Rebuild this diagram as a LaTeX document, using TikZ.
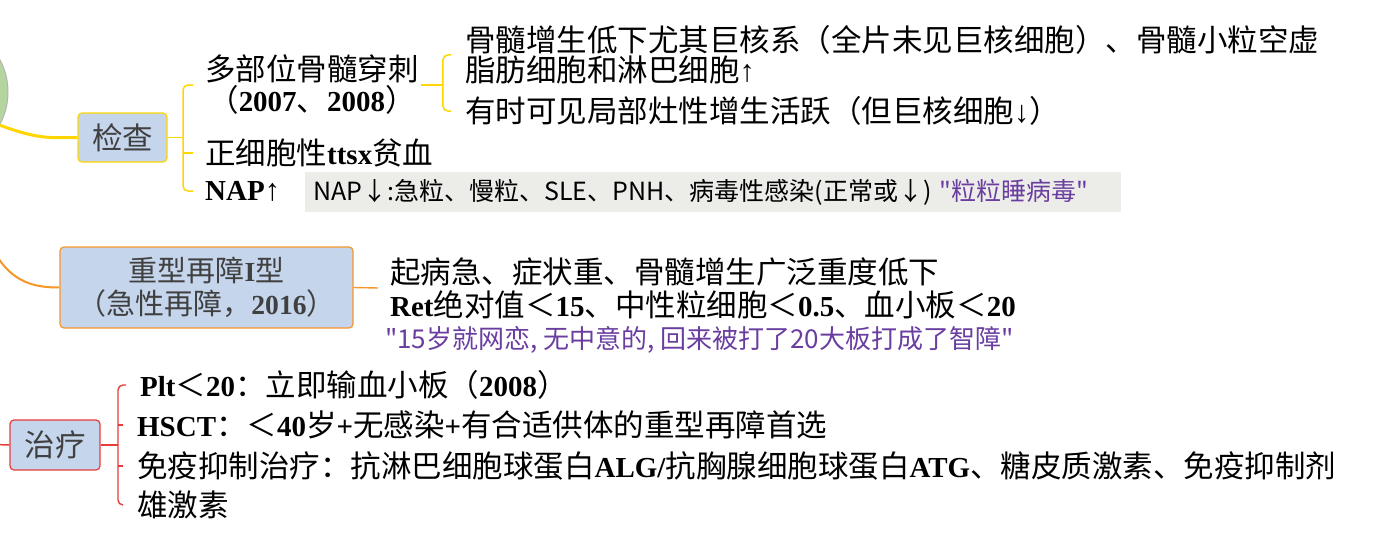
\documentclass[tikz,border=0pt]{standalone}
\usepackage{fontspec}
\setmainfont{Liberation Serif}
\newfontfamily\cjk{Noto Sans CJK SC}
\newfontfamily\latn[Scale=0.95]{Liberation Serif}
\usetikzlibrary{positioning,calc}
\definecolor{boxblue}{RGB}{197,213,235}
\definecolor{boxtext}{RGB}{64,64,64}
\definecolor{examyellow}{RGB}{255,214,0}
\definecolor{typeorange}{RGB}{245,150,40}
\definecolor{treatred}{RGB}{232,60,60}
\definecolor{rootgreen}{RGB}{180,214,158}
\definecolor{notegray}{RGB}{236,237,233}
\definecolor{notepurple}{RGB}{106,62,160}
\newcommand{\lb}[1]{{\latn\bfseries #1}}
\newcommand{\arr}[1]{{\rmfamily #1}}

\begin{document}
\begin{tikzpicture}[
    x=1pt, y=-1pt,
    every node/.style={inner sep=2pt, font=\cjk\fontsize{30.5}{31}\selectfont},
    topicbox/.style={rectangle, fill=boxblue, rounded corners=4pt, line width=1.2pt, text=boxtext, align=center, inner sep=0pt},
    itemnode/.style={anchor=west, align=left},
    notenode/.style={anchor=west, align=left, font=\cjk\fontsize{26}{28}\selectfont},
    yline/.style={draw=examyellow, line width=1.5pt},
    oline/.style={draw=typeorange, line width=1.4pt},
    rline/.style={draw=treatred, line width=1.4pt},
    bracket/.style={rounded corners=5pt}
]
    \useasboundingbox (0,0) rectangle (1373,551);
    \clip (0,0) rectangle (1373,551);

    \node (root) [circle, fill=rootgreen, draw=gray!60, line width=1pt, minimum size=136] at (-60,92) {};

    % 检查
    \node (exam) [topicbox, draw=examyellow, minimum width=89, minimum height=49] at (122.5,137.5) {检查};
    \node (marrow) [itemnode, align=center] at (203,85) {多部位骨髓穿刺\\（\lb{2007}、\lb{2008}）};
    \node (hypo) [itemnode, font=\cjk\fontsize{30.5}{30}\selectfont] at (463,55) {骨髓增生低下尤其巨核系（全片未见巨核细胞）、骨髓小粒空虚\\脂肪细胞和淋巴细胞\arr{↑}};
    \node (focal) [itemnode] at (463,111) {有时可见局部灶性增生活跃（但巨核细胞\arr{↓}）};
    \node (normo) [itemnode] at (203,153) {正细胞性\lb{ttsx}贫血};
    \node (nap) [itemnode] at (203,191) {\lb{NAP}\arr{↑}};
    \node (napnote) [notenode, fill=notegray, text width=800, inner xsep=8, minimum height=40, font=\cjk\fontsize{25}{28}\selectfont] at (305,192) {NAP↓:急粒、慢粒、SLE、PNH、病毒性感染(正常或↓) \textcolor{notepurple}{"粒粒睡病毒"}};

    \draw[examyellow, line width=3pt] (root.-29) .. controls (40,140) and (50,137.5) .. (exam.west);
    \coordinate (examfork) at (183,137.5);
    \draw[yline] (exam.east) -- (examfork);
    \draw[yline, bracket] ([xshift=-10]marrow.west) -| (examfork) |- ([xshift=-10]nap.west);
    \draw[yline] (examfork |- normo.west) -- ([xshift=-10]normo.west);
    \coordinate (marrowfork) at ([xshift=22]marrow.east);
    \draw[yline] (marrow.east) -- (marrowfork);
    \draw[yline, bracket] ([xshift=-12]hypo.west) -| (marrowfork) |- ([xshift=-12]focal.west);

    % 重型再障I型
    \node (severe) [topicbox, draw=typeorange, minimum width=293, minimum height=81, font=\cjk\fontsize{29}{33}\selectfont] at (206.5,287.5) {重型再障\lb{I}型\\（急性再障，\lb{2016}）};
    \node (onset) [itemnode, font=\cjk\fontsize{30.5}{33}\selectfont] at (388,288) {起病急、症状重、骨髓增生广泛重度低下\\\lb{Ret}绝对值＜\lb{15}、中性粒细胞＜\lb{0.5}、血小板＜\lb{20}};
    \node (mnemonic) [notenode, text=notepurple] at (383,340) {"15岁就网恋, 无中意的, 回来被打了20大板打成了智障"};

    \draw[typeorange, line width=2pt] (root.-62) .. controls (-20,280) and (25,287.5) .. (severe.west);
    \draw[oline] (severe.east) -- ([xshift=-10]onset.west);

    % 治疗
    \node (treat) [topicbox, draw=treatred, minimum width=90, minimum height=50] at (55,445) {治疗};
    \node (plt) [itemnode] at (138,385) {\lb{Plt}＜\lb{20}：立即输血小板（\lb{2008}）};
    \node (hsct) [itemnode] at (135,425) {\lb{HSCT}：＜\lb{40}岁\lb{+}无感染\lb{+}有合适供体的重型再障首选};
    \node (immuno) [itemnode] at (135,466) {免疫抑制治疗：抗淋巴细胞球蛋白\lb{ALG/}抗胸腺细胞球蛋白\lb{ATG}、糖皮质激素、免疫抑制剂};
    \node (andro) [itemnode] at (135,505) {雄激素};

    \draw[treatred, line width=1.5pt] (root.-85) .. controls (-50,445) and (-20,445) .. (treat.west);
    \coordinate (treatfork) at (118,445);
    \draw[rline] (treat.east) -- (treatfork);
    \draw[rline, bracket] ([xshift=-12]plt.west) -| (treatfork) |- ([xshift=-12]andro.west);
    \draw[rline] (treatfork |- hsct.west) -- ([xshift=-12]hsct.west);
    \draw[rline] (treatfork |- immuno.west) -- ([xshift=-12]immuno.west);

\end{tikzpicture}
\end{document}
